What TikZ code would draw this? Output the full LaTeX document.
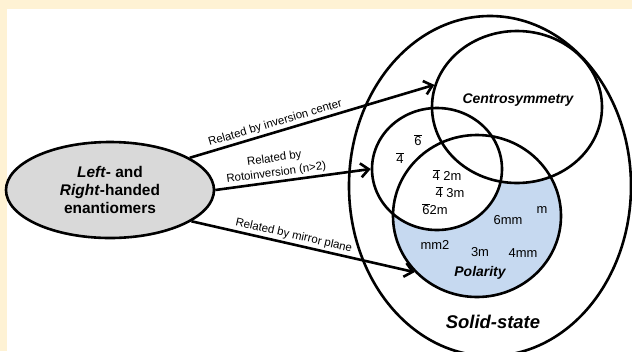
\documentclass[tikz,border=0pt]{standalone}
\usepackage{fontspec}
\setmainfont{Liberation Sans}
\usetikzlibrary{shapes.geometric,arrows.meta,backgrounds}
\definecolor{polblue}{RGB}{198,217,240}
\definecolor{enantgray}{RGB}{217,217,217}
\definecolor{pagecream}{RGB}{254,242,212}
\newcommand{\rotobar}[1]{$\overline{\mbox{#1}}$}

\begin{document}
\begin{tikzpicture}[x=1bp, y=-1bp,
  venn/.style={draw, ellipse, line width=2.6bp, inner sep=0pt},
  relarrow/.style={line width=2.6bp, -{Straight Barb[length=8bp,width=14bp]}},
  rellabel/.style={font=\fontsize{11.5}{14.5}\selectfont, sloped, above, inner sep=2bp},
  setname/.style={font=\fontsize{14}{16}\selectfont\bfseries\itshape},
  group/.style={font=\fontsize{13}{15}\selectfont, inner sep=0pt}]
  \useasboundingbox (0,0) rectangle (632,351);
  \clip (0,0) rectangle (632,351);

  % sets
  \node[venn, minimum width=282bp, minimum height=340bp] (solid) at (490,186) {};
  \node[venn, minimum width=170bp, minimum height=152bp] (centro) at (517,107) {};
  \node[venn, minimum width=130bp, minimum height=122bp] (roto) at (437,169) {};
  \node[venn, minimum width=168bp, minimum height=162bp] (polar) at (477,216) {};
  \begin{scope}[on background layer]
    \fill[pagecream] (0,0) rectangle (632,351);
    \fill[white] (7,9) rectangle (632,351);
    \fill[polblue] (polar.center) ellipse [x radius=84bp, y radius=81bp];
    \fill[white] (roto.center) ellipse [x radius=65bp, y radius=61bp];
    \fill[white] (centro.center) ellipse [x radius=85bp, y radius=76bp];
  \end{scope}

  \node[setname] (centrotxt) at (518,100) {Centrosymmetry};
  \node[setname] (polartxt) at (480,273) {Polarity};
  \node[setname, font=\fontsize{18.5}{20}\selectfont\bfseries\itshape] (solidtxt) at (493,322) {Solid-state};

  % point groups
  \node[group] (g6) at (418,140) {\rotobar{6}};
  \node[group] (g4) at (400,158) {\rotobar{4}};
  \node[group] (g42m) at (447,175) {\rotobar{4} 2m};
  \node[group] (g43m) at (450,192) {\rotobar{4} 3m};
  \node[group] (g62m) at (435,209) {\rotobar{6}2m};
  \node[group] (gm) at (542,210) {m};
  \node[group] (g6mm) at (508,220) {6mm};
  \node[group] (gmm2) at (435,245) {mm2};
  \node[group] (g3m) at (480,252) {3m};
  \node[group] (g4mm) at (523,253) {4mm};

  % enantiomers and relations
  \node[ellipse, draw, line width=2.6bp, fill=enantgray, minimum width=208bp, minimum height=96bp,
    inner sep=0pt, align=center, font=\fontsize{15.5}{18}\selectfont\bfseries] (enant) at (110,190)
    {\textit{Left}- and\\\textit{Right}-handed\\enantiomers};
  \draw[relarrow] (enant.22) -- node[rellabel, pos=0.36] {Related by inversion center} (centro.165);
  \draw[relarrow] (enant.east) -- node[rellabel, pos=0.4, align=center] {Related by\\Rotoinversion (n>2)} (roto.west);
  \draw[relarrow] (enant.-21) -- node[rellabel, pos=0.45] {Related by mirror plane} (polar.222);
\end{tikzpicture}
\end{document}
